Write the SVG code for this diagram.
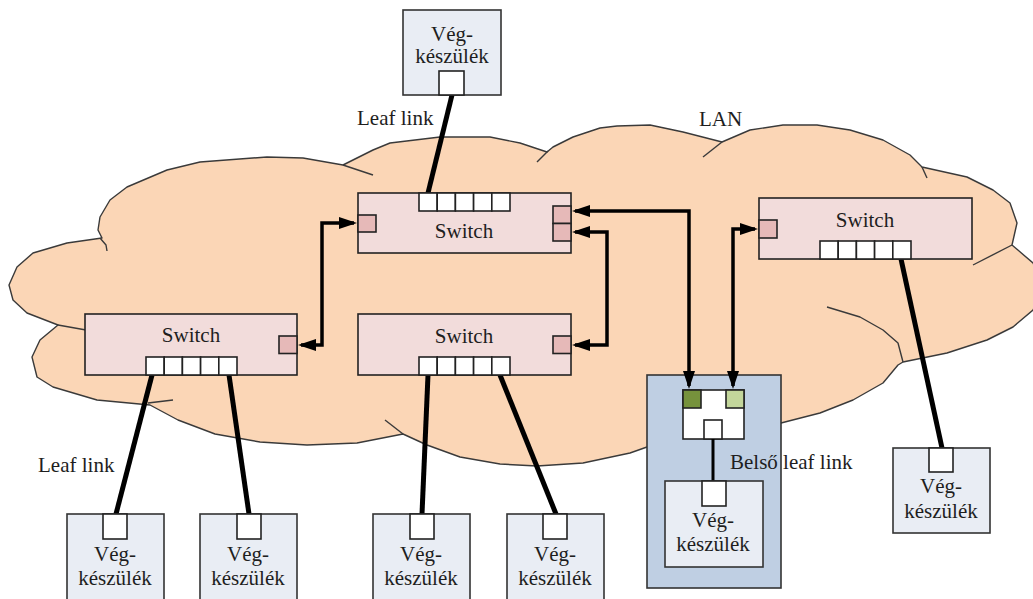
<svg xmlns="http://www.w3.org/2000/svg" width="1033" height="599" viewBox="0 0 1033 599">
  <style>
    .cloud { fill: #fbd6b6; stroke: #3a3a3a; stroke-width: 1.4; stroke-linejoin: round; }
    .seam { fill: none; stroke: #3a3a3a; stroke-width: 1.4; stroke-linejoin: round; }
    .sw { fill: #f2dcdb; stroke: #222; stroke-width: 1.6; }
    .port { fill: #ffffff; stroke: #222; stroke-width: 1.6; }
    .uplink { fill: #e6b9b8; stroke: #222; stroke-width: 1.6; }
    .dev { fill: #e9edf4; stroke: #333; stroke-width: 1.6; }
    .host { fill: #bfcfe3; stroke: #333; stroke-width: 1.6; }
    .leaf { stroke: #000; stroke-width: 5; fill: none; }
    .inner { stroke: #000; stroke-width: 3; fill: none; }
    .trunk { stroke: #000; stroke-width: 3.5; fill: none; stroke-linejoin: miter; marker-start: url(#arr); marker-end: url(#arr); }
    .trunk1 { stroke: #000; stroke-width: 3.5; fill: none; marker-end: url(#arr); }
    text { font-family: "Liberation Serif", "Times New Roman", serif; font-size: 21px; fill: #1e1e1e; }
    .c { text-anchor: middle; }
  </style>
  <defs>
    <marker id="arr" viewBox="0 0 18 12" refX="15" refY="6" markerWidth="18" markerHeight="12" markerUnits="userSpaceOnUse" orient="auto-start-reverse">
      <path d="M0,0 L18,6 L0,12 Z" fill="#000"/>
    </marker>
  </defs>

  <!-- LAN cloud -->
  <g id="lan">
    <path class="cloud" d="M9,285 L17,267 L33,253 L67,243 L102,238 L98,230 L100,217 L110,200 L127,187 L167,170 L200,162 L267,157 L303,158 L343,165 L373,150 L390,143 L440,137 L490,137 L520,143 L547,152 L553,147 L573,137 L600,128 L617,126 L650,125 L683,132 L722,142 L750,130 L783,125 L817,125 L850,130 L883,140 L910,155 L922,167 L967,177 L993,190 L1010,203 L1017,223 L1012,245 L1033,263 L1045,285 L1033,310 L1013,327 L987,340 L947,353 L903,362 L898,365 L883,383 L853,400 L820,413 L781,423 L700,440 L647,447 L630,453 L583,463 L537,466 L500,464 L460,457 L427,445 L403,434 L357,443 L307,445 L260,442 L215,434 L178,420 L150,405 L97,400 L53,387 L37,377 L32,357 L40,340 L58,325 L27,313 L13,300 Z"/>
    <path class="seam" d="M100,238 L106,245 L107,251"/>
    <path class="seam" d="M343,165 L373,175"/>
    <path class="seam" d="M548,151 L537,162"/>
    <path class="seam" d="M722,142 L703,157"/>
    <path class="seam" d="M922,167 L927,178"/>
    <path class="seam" d="M1012,245 L973,265"/>
    <path class="seam" d="M903,362 L898,343 L883,330 L860,317 L827,307"/>
    <path class="seam" d="M403,434 L385,420"/>
    <path class="seam" d="M148,403 L173,400"/>
    <path class="seam" d="M58,325 L86,330"/>
    <text x="699" y="126">LAN</text>
  </g>

  <!-- host enclosure with internal bridge -->
  <g id="host">
    <rect class="host" x="647" y="375" width="134" height="213"/>
    <rect x="683" y="390" width="61" height="49" fill="#fff" stroke="#222" stroke-width="1.6"/>
    <rect x="683" y="390" width="18" height="18" fill="#76923c" stroke="#222" stroke-width="1.6"/>
    <rect x="726" y="390" width="18" height="18" fill="#c3d69b" stroke="#222" stroke-width="1.6"/>
    <rect class="port" x="704" y="420" width="18" height="19"/>
  </g>

  <!-- links -->
  <g id="connectors">
    <line class="leaf" x1="452" y1="95" x2="428" y2="193"/>
    <line class="leaf" x1="152" y1="375" x2="116" y2="514"/>
    <line class="leaf" x1="229" y1="375" x2="249" y2="514"/>
    <line class="leaf" x1="428" y1="375" x2="422" y2="514"/>
    <line class="leaf" x1="500" y1="375" x2="556" y2="514"/>
    <line class="leaf" x1="901" y1="259" x2="942" y2="448"/>
    <line class="inner" x1="713" y1="439" x2="713" y2="481"/>
    <path class="trunk" d="M354,223 H322 V345 H301"/>
    <path class="trunk" d="M575,232 H607 V345 H575"/>
    <path class="trunk" d="M575,211 H689 V386"/>
    <path class="trunk" d="M755,229 H733 V386"/>
  </g>

  <!-- switches -->
  <g id="switch-core">
    <rect class="sw" x="358" y="193" width="213" height="60"/>
    <rect class="port" x="419" y="193" width="18.2" height="18"/>
    <rect class="port" x="437.2" y="193" width="18.2" height="18"/>
    <rect class="port" x="455.4" y="193" width="18.2" height="18"/>
    <rect class="port" x="473.6" y="193" width="18.2" height="18"/>
    <rect class="port" x="491.8" y="193" width="18.2" height="18"/>
    <rect class="uplink" x="358" y="215" width="18" height="17"/>
    <rect class="uplink" x="553" y="206" width="18" height="17.5"/>
    <rect class="uplink" x="553" y="223.5" width="18" height="17.5"/>
    <text class="c" x="464" y="238">Switch</text>
  </g>

  <g id="switch-left">
    <rect class="sw" x="85" y="314" width="212" height="61"/>
    <rect class="port" x="146" y="357" width="18.2" height="18"/>
    <rect class="port" x="164.2" y="357" width="18.2" height="18"/>
    <rect class="port" x="182.4" y="357" width="18.2" height="18"/>
    <rect class="port" x="200.6" y="357" width="18.2" height="18"/>
    <rect class="port" x="218.8" y="357" width="18.2" height="18"/>
    <rect class="uplink" x="279" y="336" width="18" height="17.5"/>
    <text class="c" x="191" y="342">Switch</text>
  </g>

  <g id="switch-mid">
    <rect class="sw" x="358" y="314" width="213" height="61"/>
    <rect class="port" x="419" y="357" width="18.2" height="18"/>
    <rect class="port" x="437.2" y="357" width="18.2" height="18"/>
    <rect class="port" x="455.4" y="357" width="18.2" height="18"/>
    <rect class="port" x="473.6" y="357" width="18.2" height="18"/>
    <rect class="port" x="491.8" y="357" width="18.2" height="18"/>
    <rect class="uplink" x="553" y="336" width="18" height="17.5"/>
    <text class="c" x="464" y="343">Switch</text>
  </g>

  <g id="switch-right">
    <rect class="sw" x="759" y="198" width="213" height="61"/>
    <rect class="port" x="820" y="241" width="18.2" height="18"/>
    <rect class="port" x="838.2" y="241" width="18.2" height="18"/>
    <rect class="port" x="856.4" y="241" width="18.2" height="18"/>
    <rect class="port" x="874.6" y="241" width="18.2" height="18"/>
    <rect class="port" x="892.8" y="241" width="18.2" height="18"/>
    <rect class="uplink" x="759" y="220" width="18" height="18"/>
    <text class="c" x="865" y="227">Switch</text>
  </g>

  <!-- end devices -->
  <g id="dev-top">
    <rect class="dev" x="403" y="10" width="98" height="85"/>
    <rect class="port" x="439" y="71" width="25" height="24"/>
    <text class="c" x="452" y="41">Vég-</text>
    <text class="c" x="452" y="63">készülék</text>
  </g>

  <g id="dev-1">
    <rect class="dev" x="67" y="514" width="97" height="92"/>
    <rect class="port" x="103" y="514" width="24" height="25"/>
    <text class="c" x="115" y="561">Vég-</text>
    <text class="c" x="115" y="585">készülék</text>
  </g>

  <g id="dev-2">
    <rect class="dev" x="200" y="514" width="97" height="92"/>
    <rect class="port" x="237" y="514" width="24" height="25"/>
    <text class="c" x="248" y="561">Vég-</text>
    <text class="c" x="248" y="585">készülék</text>
  </g>

  <g id="dev-3">
    <rect class="dev" x="373" y="514" width="97" height="92"/>
    <rect class="port" x="410" y="514" width="24" height="25"/>
    <text class="c" x="421" y="561">Vég-</text>
    <text class="c" x="421" y="585">készülék</text>
  </g>

  <g id="dev-4">
    <rect class="dev" x="507" y="514" width="97" height="92"/>
    <rect class="port" x="543" y="514" width="24" height="25"/>
    <text class="c" x="555" y="561">Vég-</text>
    <text class="c" x="555" y="585">készülék</text>
  </g>

  <g id="dev-right">
    <rect class="dev" x="893" y="448" width="97" height="85"/>
    <rect class="port" x="929" y="448" width="24" height="24"/>
    <text class="c" x="941" y="493">Vég-</text>
    <text class="c" x="941" y="518">készülék</text>
  </g>

  <g id="dev-inner">
    <rect class="dev" x="665" y="481" width="98" height="86"/>
    <rect class="port" x="702" y="481" width="24" height="25"/>
    <text class="c" x="713" y="527">Vég-</text>
    <text class="c" x="713" y="551">készülék</text>
  </g>

  <!-- link labels -->
  <g id="labels">
    <text x="357" y="125">Leaf link</text>
    <text x="38" y="472">Leaf link</text>
    <text x="730" y="469">Belső leaf link</text>
  </g>
</svg>
